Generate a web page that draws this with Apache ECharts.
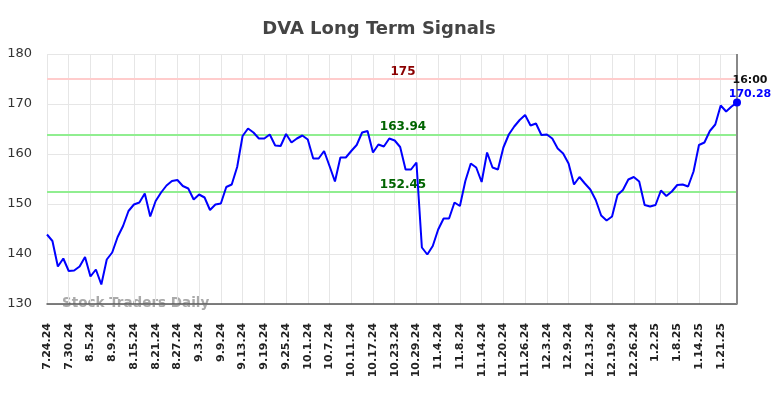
<!DOCTYPE html>
<html>
<head>
<meta charset="utf-8">
<script src="https://cdn.jsdelivr.net/npm/echarts@6/dist/echarts.min.js"></script>
<style>
	html, body { margin: 0; padding: 0; background: #fff; }
	#chart { width: 784px; height: 398px; }
</style>
</head>
<body>
<div id="chart"></div>
<script>
var dates = [
	'7.24.24','7.25.24','7.26.24','7.29.24','7.30.24','7.31.24',
	'8.1.24','8.2.24','8.5.24','8.6.24','8.7.24','8.8.24','8.9.24','8.12.24','8.13.24','8.14.24','8.15.24','8.16.24','8.19.24','8.20.24','8.21.24','8.22.24','8.23.24','8.26.24','8.27.24','8.28.24','8.29.24','8.30.24',
	'9.3.24','9.4.24','9.5.24','9.6.24','9.9.24','9.10.24','9.11.24','9.12.24','9.13.24','9.16.24','9.17.24','9.18.24','9.19.24','9.20.24','9.23.24','9.24.24','9.25.24','9.26.24','9.27.24','9.30.24',
	'10.1.24','10.2.24','10.3.24','10.4.24','10.7.24','10.8.24','10.9.24','10.10.24','10.11.24','10.14.24','10.15.24','10.16.24','10.17.24','10.18.24','10.21.24','10.22.24','10.23.24','10.24.24','10.25.24','10.28.24','10.29.24','10.30.24','10.31.24',
	'11.1.24','11.4.24','11.5.24','11.6.24','11.7.24','11.8.24','11.11.24','11.12.24','11.13.24','11.14.24','11.15.24','11.18.24','11.19.24','11.20.24','11.21.24','11.22.24','11.25.24','11.26.24','11.27.24','11.29.24',
	'12.2.24','12.3.24','12.4.24','12.5.24','12.6.24','12.9.24','12.10.24','12.11.24','12.12.24','12.13.24','12.16.24','12.17.24','12.18.24','12.19.24','12.20.24','12.23.24','12.24.24','12.26.24','12.27.24','12.30.24','12.31.24',
	'1.2.25','1.3.25','1.6.25','1.7.25','1.8.25','1.9.25','1.10.25','1.13.25','1.14.25','1.15.25','1.16.25','1.17.25','1.21.25','1.22.25','1.23.25','1.24.25'
];

var prices = [
	143.9, 142.6, 137.5, 139.1, 136.6, 136.7, 137.5, 139.4, 135.5, 136.9,
	133.9, 138.9, 140.3, 143.4, 145.6, 148.6, 149.9, 150.3, 152.1, 147.5,
	150.6, 152.3, 153.7, 154.6, 154.8, 153.6, 153.1, 150.9, 151.9, 151.3,
	148.8, 149.9, 150.1, 153.4, 153.9, 157.4, 163.6, 165.1, 164.3, 163.1,
	163.1, 163.9, 161.7, 161.6, 164.0, 162.3, 163.1, 163.7, 162.9, 159.1,
	159.1, 160.6, 157.6, 154.5, 159.3, 159.3, 160.6, 161.8, 164.3, 164.6,
	160.3, 161.9, 161.5, 163.1, 162.7, 161.4, 156.9, 156.9, 158.3, 141.3,
	139.9, 141.6, 144.9, 147.1, 147.1, 150.3, 149.6, 154.6, 158.1, 157.3,
	154.4, 160.3, 157.3, 156.9, 161.3, 163.9, 165.5, 166.8, 167.8, 165.7,
	166.1, 163.8, 163.9, 163.1, 161.1, 160.1, 158.1, 153.9, 155.4, 154.1,
	152.9, 150.8, 147.7, 146.7, 147.5, 151.8, 152.8, 154.9, 155.4, 154.5,
	149.8, 149.5, 149.8, 152.7, 151.6, 152.5, 153.8, 153.9, 153.5, 156.5,
	161.8, 162.3, 164.6, 165.9, 169.7, 168.5, 169.5, 170.28
];

var resistance = 175;
var signal_levels = [163.94, 152.45];
var last_time = '16:00';

var chartDom = document.getElementById('chart');
var myChart = echarts.init(chartDom);
var option;

var last_i = prices.length - 1;
var level_lines = [{
	yAxis: resistance,
	lineStyle: { color: '#ffcccc', width: 2, type: 'solid' },
	label: { color: '#8b0000' }
}];
for (let i in signal_levels) {
	level_lines.push({
		yAxis: signal_levels[i],
		lineStyle: { color: '#90ee90', width: 2, type: 'solid' },
		label: { color: '#006400' }
	});
}
level_lines.push({
	xAxis: dates[last_i],
	lineStyle: { color: '#888888', width: 2, type: 'solid' },
	label: { show: false }
});

option = {
	animation: false,
	textStyle: { fontFamily: 'DejaVu Sans' },
	title: {
		text: 'DVA Long Term Signals',
		left: 374,
		top: 15,
		textAlign: 'center',
		textStyle: { fontSize: 18, fontWeight: 'bold', color: '#444' }
	},
	grid: {
		left: 47,
		right: 47,
		top: 54,
		bottom: 94
	},
	graphic: [{
		type: 'text',
		left: 62,
		top: 296,
		silent: true,
		style: {
			text: 'Stock Traders Daily',
			fill: '#aaaaaa',
			font: 'bold 13.5px "DejaVu Sans"'
		}
	}],
	xAxis: {
		type: 'category',
		data: dates,
		boundaryGap: false,
		axisLine: { lineStyle: { color: '#555', width: 1.5 } },
		axisTick: { show: false },
		axisLabel: {
			interval: 3,
			rotate: 90,
			margin: 19,
			fontSize: 11,
			fontWeight: 'bold',
			color: '#222'
		},
		splitLine: {
			show: true,
			interval: 3,
			lineStyle: { color: '#e6e6e6', width: 1 }
		}
	},
	yAxis: {
		type: 'value',
		min: 130,
		max: 180,
		interval: 10,
		axisLine: { show: false },
		axisTick: { show: false },
		axisLabel: { fontSize: 13, color: '#333', margin: 15 },
		splitLine: { lineStyle: { color: '#e6e6e6', width: 1 } }
	},
	series: [
		{
			name: 'DVA',
			type: 'line',
			data: prices,
			showSymbol: false,
			lineStyle: { color: '#0000ff', width: 2 },
			itemStyle: { color: '#0000ff' },
			z: 5,
			markLine: {
				silent: true,
				symbol: 'none',
				z: 3,
				label: {
					position: 'insideMiddleTop',
					fontSize: 12,
					fontWeight: 'bold',
					distance: 1,
					offset: [11, 0],
					formatter: function (p) { return p.value; }
				},
				data: level_lines
			},
			markPoint: {
				symbol: 'circle',
				symbolSize: 8,
				itemStyle: { color: '#0000ff' },
				label: {
					show: true,
					position: 'top',
					offset: [13, 3],
					distance: 0,
					align: 'center',
					formatter: last_time + '\n{v|' + prices[last_i] + '}',
					color: '#111',
					fontSize: 11,
					fontWeight: 'bold',
					lineHeight: 14,
					rich: {
						v: { color: '#0000ff', fontSize: 11, fontWeight: 'bold', lineHeight: 14 }
					}
				},
				data: [{ coord: [dates[last_i], prices[last_i]] }]
			}
		}
	]
};

option && myChart.setOption(option);
</script>
</body>
</html>
